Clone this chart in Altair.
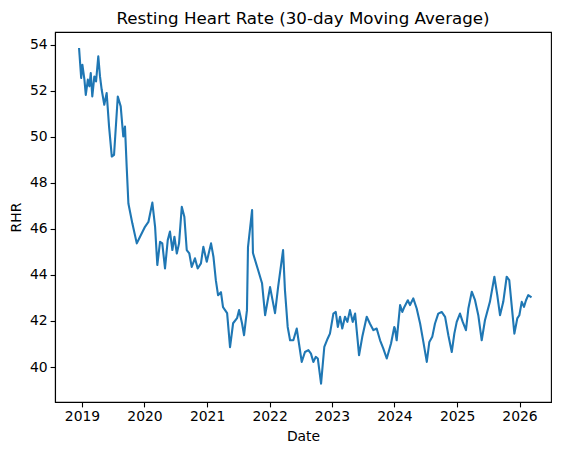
import altair as alt
import pandas as pd

dates = [
    "2018-12-15", "2018-12-27", "2019-01-03", "2019-01-15", "2019-01-23", "2019-02-04",
    "2019-02-13", "2019-02-21", "2019-03-02", "2019-03-14", "2019-03-24", "2019-04-06",
    "2019-04-16", "2019-04-26", "2019-05-11", "2019-05-25", "2019-06-08", "2019-06-24",
    "2019-07-07", "2019-07-29", "2019-08-15", "2019-08-30", "2019-09-09", "2019-09-19",
    "2019-09-29", "2019-10-22", "2019-11-17", "2019-12-06", "2020-01-04", "2020-01-24",
    "2020-02-16", "2020-03-03", "2020-03-16", "2020-04-01", "2020-04-14", "2020-04-30",
    "2020-05-16", "2020-05-29", "2020-06-12", "2020-06-24", "2020-07-08", "2020-07-21",
    "2020-08-06", "2020-08-21", "2020-09-04", "2020-09-19", "2020-10-03", "2020-10-22",
    "2020-11-07", "2020-11-26", "2020-12-10", "2020-12-30", "2021-01-24", "2021-02-07",
    "2021-02-21", "2021-03-06", "2021-03-23", "2021-04-04", "2021-04-28", "2021-05-15",
    "2021-06-02", "2021-06-25", "2021-07-07", "2021-07-24", "2021-08-05", "2021-08-22",
    "2021-08-28", "2021-09-21", "2021-09-26", "2021-10-26", "2021-11-18", "2021-12-06",
    "2022-01-04", "2022-02-02", "2022-02-20", "2022-03-21", "2022-04-01", "2022-04-17",
    "2022-05-01", "2022-05-20", "2022-06-09", "2022-06-22", "2022-07-08", "2022-07-27",
    "2022-08-16", "2022-08-31", "2022-09-14", "2022-09-28", "2022-10-10", "2022-10-29",
    "2022-11-17", "2022-12-07", "2022-12-20", "2023-01-09", "2023-01-23", "2023-02-04",
    "2023-02-17", "2023-03-02", "2023-03-18", "2023-04-01", "2023-04-16", "2023-05-02",
    "2023-05-16", "2023-05-31", "2023-06-08", "2023-06-27", "2023-07-23", "2023-08-11",
    "2023-08-31", "2023-09-19", "2023-10-09", "2023-10-28", "2023-11-17", "2023-12-12",
    "2023-12-31", "2024-01-04", "2024-01-14", "2024-02-03", "2024-02-16", "2024-02-28",
    "2024-03-19", "2024-04-01", "2024-04-20", "2024-05-10", "2024-05-30", "2024-06-18",
    "2024-07-08", "2024-07-23", "2024-08-09", "2024-08-25", "2024-09-13", "2024-10-03",
    "2024-10-23", "2024-11-11", "2024-12-01", "2024-12-16", "2024-12-30", "2025-01-18",
    "2025-02-03", "2025-02-22", "2025-03-08", "2025-03-28", "2025-04-16", "2025-05-05",
    "2025-05-25", "2025-06-13", "2025-07-12", "2025-08-07", "2025-08-24", "2025-09-09",
    "2025-09-28", "2025-10-18", "2025-11-02", "2025-11-16", "2025-12-02", "2025-12-19",
    "2025-12-31", "2026-01-14", "2026-01-27", "2026-02-08", "2026-02-21", "2026-03-07",
]

rhr = [
    53.81, 52.55, 53.13, 52.48, 51.82, 52.48,
    52.19, 52.77, 51.75, 52.62, 52.40, 53.49,
    52.62, 52.04, 51.39, 51.90, 50.44, 49.14,
    49.21, 51.75, 51.32, 50.01, 50.44, 48.70,
    47.10, 46.24, 45.37, 45.66, 46.09, 46.30,
    47.14, 46.09, 44.43, 45.44, 45.37, 44.28,
    45.51, 45.88, 45.08, 45.66, 44.93, 45.37,
    46.96, 46.53, 45.08, 44.93, 44.35, 44.72,
    44.28, 44.50, 45.22, 44.57, 45.37, 44.79,
    43.77, 43.12, 43.25, 42.60, 42.34, 40.86,
    41.90, 42.12, 42.47, 41.90, 41.38, 42.47,
    45.21, 46.82, 44.95, 44.21, 43.64, 42.25,
    43.47, 42.34, 43.47, 45.08, 43.34, 41.74,
    41.16, 41.16, 41.67, 41.02, 40.22, 40.65,
    40.73, 40.58, 40.22, 40.44, 40.37, 39.28,
    40.87, 41.24, 41.45, 42.32, 42.39, 41.74,
    42.18, 41.67, 42.18, 41.96, 42.47, 41.96,
    42.32, 41.16, 40.51, 41.31, 42.18, 41.88,
    41.60, 41.67, 41.16, 40.80, 40.37, 41.02,
    41.74, 41.67, 41.16, 42.69, 42.39, 42.61,
    42.90, 42.69, 42.98, 42.54, 41.89, 41.09,
    40.22, 41.09, 41.31, 41.89, 42.32, 42.39,
    42.18, 41.38, 40.65, 41.45, 41.96, 42.32,
    41.96, 41.60, 42.54, 43.27, 42.90, 42.25,
    41.16, 42.03, 42.83, 43.92, 43.12, 42.25,
    42.83, 43.92, 43.77, 42.69, 41.45, 42.11,
    42.25, 42.83, 42.61, 42.90, 43.12, 43.05,
]

year_ticks = [2019, 2020, 2021, 2022, 2023, 2024, 2025, 2026]
rhr_ticks = [40, 42, 44, 46, 48, 50, 52, 54]

df = pd.DataFrame({"Date": dates, "RHR": rhr})

FONT = "DejaVu Sans"

chart = (
    alt.Chart(df)
    .mark_line(color="#1f77b4", strokeWidth=2.1, strokeJoin="round", strokeCap="square")
    .encode(
        x=alt.X(
            "Date:T",
            title="Date",
            scale=alt.Scale(
                domain=[
                    alt.DateTime(year=2018, month=7, date=27),
                    alt.DateTime(year=2026, month=7, date=4),
                ],
                nice=False,
            ),
            axis=alt.Axis(
                values=[alt.DateTime(year=y, month=1, date=1) for y in year_ticks],
                format="%Y",
                labelAngle=0,
            ),
        ),
        y=alt.Y(
            "RHR:Q",
            title="RHR",
            scale=alt.Scale(domain=[38.48, 54.55], nice=False, zero=False),
            axis=alt.Axis(values=rhr_ticks),
        ),
    )
    .properties(
        width=496,
        height=370,
        title=alt.TitleParams(
            "Resting Heart Rate (30-day Moving Average)",
            font=FONT,
            fontSize=16.7,
            fontWeight="normal",
            color="black",
            anchor="middle",
            offset=4,
        ),
        autosize=alt.AutoSizeParams(type="none"),
        padding={"left": 47, "top": 24, "right": 3, "bottom": 45},
    )
    .configure_view(stroke="black", strokeWidth=1.1)
    .configure_axis(
        grid=False,
        domainColor="black",
        domainWidth=1.1,
        tickColor="black",
        tickWidth=1.1,
        tickSize=4.9,
        labelFont=FONT,
        labelFontSize=13.9,
        labelColor="black",
        labelPadding=3,
        titleFont=FONT,
        titleFontSize=13.9,
        titleFontWeight="normal",
        titleColor="black",
    )
    .configure_axisX(titlePadding=6)
    .configure_axisY(titlePadding=6, labelPadding=3)
)

chart.save("out.html", embed_options={"renderer": "svg", "actions": False})
